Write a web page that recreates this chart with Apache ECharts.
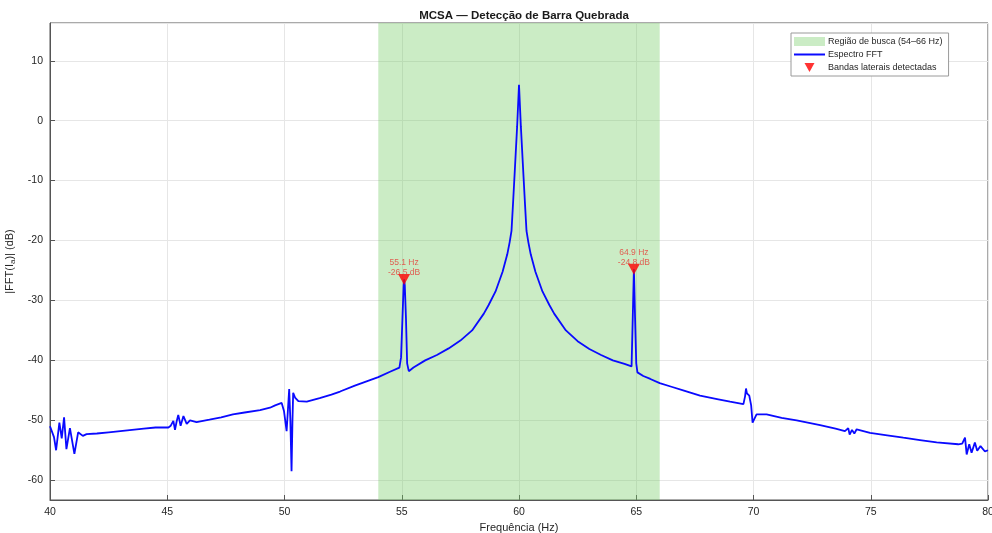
<!DOCTYPE html>
<html><head><meta charset="utf-8">
<script src="https://cdn.jsdelivr.net/npm/echarts@6/dist/echarts.min.js"></script>
<style>html,body{margin:0;padding:0;background:#fff}#c{width:992px;height:533px}</style>
</head><body><div id="c"></div>
<script>
const freqHz = [40.00,40.07,40.17,40.26,40.40,40.50,40.60,40.70,40.85,41.04,41.20,41.40,41.56,42.00,42.50,43.00,43.50,44.00,44.50,45.05,45.15,45.26,45.33,45.40,45.47,45.57,45.69,45.83,45.97,46.25,46.80,47.30,47.80,48.30,48.96,49.38,49.60,49.88,49.98,50.09,50.15,50.20,50.25,50.30,50.34,50.37,50.45,50.59,50.95,51.50,52.00,52.37,53.00,53.50,54.00,54.50,54.90,54.97,55.03,55.08,55.10,55.13,55.18,55.23,55.30,55.50,56.00,56.50,57.00,57.50,58.00,58.50,58.70,59.00,59.30,59.50,59.60,59.68,59.75,59.82,59.92,60.00,60.08,60.18,60.25,60.32,60.40,60.50,60.70,61.00,61.30,61.50,62.00,62.50,63.00,63.50,64.00,64.50,64.80,64.85,64.90,64.95,65.00,65.05,65.30,65.60,66.00,66.50,67.00,67.72,68.50,69.00,69.57,69.64,69.68,69.72,69.75,69.82,69.90,69.96,70.13,70.56,71.20,71.84,72.84,73.50,73.90,74.04,74.10,74.14,74.20,74.30,74.40,74.97,75.70,76.39,77.10,77.81,78.73,78.90,79.02,79.09,79.20,79.30,79.44,79.54,79.68,79.87,80.00];
const magDb = [-51.0,-51.0,-52.8,-55.0,-50.4,-53.0,-49.5,-54.8,-51.3,-55.6,-52.0,-52.6,-52.3,-52.2,-52.0,-51.8,-51.6,-51.4,-51.2,-51.2,-50.9,-50.1,-51.6,-50.2,-49.1,-50.9,-49.3,-50.6,-50.0,-50.3,-49.9,-49.5,-49.0,-48.7,-48.3,-47.9,-47.5,-47.1,-48.5,-51.8,-48.0,-44.8,-50.0,-58.5,-50.0,-45.4,-46.2,-46.8,-46.9,-46.3,-45.7,-45.2,-44.2,-43.5,-42.8,-41.9,-41.2,-39.5,-33.0,-27.5,-26.5,-27.5,-33.0,-40.5,-41.8,-41.2,-40.0,-39.1,-38.0,-36.7,-35.0,-32.2,-30.8,-28.5,-25.2,-22.3,-20.3,-18.4,-13.5,-8.4,-1.0,6.0,-1.0,-8.4,-13.5,-18.4,-20.3,-22.3,-25.2,-28.5,-30.8,-32.2,-35.0,-36.8,-38.1,-39.1,-40.0,-40.6,-41.0,-33.0,-24.8,-33.0,-40.5,-42.0,-42.6,-43.1,-43.8,-44.4,-45.0,-45.9,-46.5,-46.9,-47.3,-46.0,-44.7,-45.5,-45.2,-45.9,-47.5,-50.4,-49.0,-49.0,-49.6,-50.0,-50.8,-51.4,-51.8,-51.3,-52.4,-52.6,-51.6,-52.2,-51.5,-52.1,-52.5,-52.9,-53.3,-53.7,-54.0,-53.9,-52.9,-55.7,-54.0,-55.4,-53.7,-55.1,-54.3,-55.2,-55.0];
const peakFreqs = [55.1, 64.9];
const peakDb = [-26.5, -24.8];
const searchBand = [54, 66];
const xRange = [40, 80];
const yRange = [-63.3, 16.3];

const FONT = "'Liberation Sans', Arial, sans-serif";
const TXT = '#262626';
const AX = '#555';
const bandName = 'Região de busca (54–66 Hz)';
const triPath = 'path://M0,0 L10,0 L5,9 Z';
const linePath = 'path://M0,0 L31,0 L31,2 L0,2 Z';

const chart = echarts.init(document.getElementById('c'), null, {renderer: 'canvas'});
chart.setOption({
  animation: false,
  backgroundColor: '#fff',
  textStyle: {fontFamily: FONT, color: TXT},
  title: {
    text: 'MCSA — Detecção de Barra Quebrada',
    left: 519, top: 5, textAlign: 'center',
    textStyle: {fontFamily: FONT, fontSize: 11.5, fontWeight: 'bold', color: '#1a1a1a'}
  },
  grid: {left: 50, right: 4, top: 23, bottom: 33, show: true, borderColor: AX, borderWidth: 1, containLabel: false, outerBoundsMode: 'none'},
  legend: {
    orient: 'vertical', left: 791, top: 33,
    backgroundColor: '#fff', borderColor: '#9a9a9a', borderWidth: 1,
    padding: [4, 6, 4, 3], itemGap: 4, itemWidth: 31, itemHeight: 9,
    textStyle: {fontFamily: FONT, fontSize: 9, color: TXT, padding: [0, 0, 0, -2]},
    data: [
      {name: bandName, icon: 'rect', itemStyle: {color: 'rgba(119,204,102,0.38)'}},
      {name: 'Espectro FFT', icon: linePath, itemStyle: {color: '#0a0aff'}},
      {name: 'Bandas laterais detectadas', icon: triPath, itemStyle: {color: '#ff0000'}}
    ]
  },
  xAxis: {
    type: 'value', min: xRange[0], max: xRange[1], interval: 5,
    name: 'Frequência (Hz)', nameLocation: 'middle', nameGap: 19,
    nameTextStyle: {fontFamily: FONT, fontSize: 11, color: TXT},
    axisLine: {show: true, onZero: false, lineStyle: {color: AX}},
    axisTick: {show: true, inside: true, length: 5, lineStyle: {color: AX}},
    axisLabel: {fontFamily: FONT, fontSize: 10.5, color: TXT, margin: 7},
    splitLine: {show: true, lineStyle: {color: '#e6e6e6', width: 1}}
  },
  yAxis: {
    type: 'value', min: yRange[0], max: yRange[1], splitNumber: 8,
    name: '{n||FFT(I}{s|a}{n|)| (dB)}', nameLocation: 'middle', nameGap: 33,
    nameTextStyle: {fontFamily: FONT, fontSize: 11, color: TXT,
      rich: {n: {fontFamily: FONT, fontSize: 11, color: TXT}, s: {fontFamily: FONT, fontSize: 8, color: TXT, padding: [5, 0, 0, 0]}}},
    axisLine: {show: true, onZero: false, lineStyle: {color: AX}},
    axisTick: {show: true, inside: true, length: 5, lineStyle: {color: AX}},
    axisLabel: {fontFamily: FONT, fontSize: 10.5, color: TXT, margin: 7, showMinLabel: false, showMaxLabel: false},
    splitLine: {show: true, lineStyle: {color: '#e6e6e6', width: 1}}
  },
  series: [
    {
      name: bandName, type: 'line', data: [], symbol: 'none', z: 1,
      itemStyle: {color: 'rgba(119,204,102,0.38)'},
      markArea: {
        silent: true,
        itemStyle: {color: 'rgba(119,204,102,0.38)'},
        data: [[{xAxis: searchBand[0]}, {xAxis: searchBand[1]}]]
      }
    },
    {
      name: 'Espectro FFT', type: 'line', symbol: 'none', showSymbol: false, z: 3, sampling: 'none',
      lineStyle: {color: '#0a0aff', width: 1.8},
      itemStyle: {color: '#0a0aff'},
      data: freqHz.map((f, i) => [f, magDb[i]])
    },
    {
      name: 'Bandas laterais detectadas', type: 'scatter', z: 5,
      symbol: triPath, symbolSize: [12, 11],
      itemStyle: {color: '#ff0000'},
      label: {
        show: true, position: 'top', distance: -4,
        fontFamily: FONT, fontSize: 8.5, lineHeight: 10, color: '#e53935', align: 'center',
        formatter: p => p.value[0].toFixed(1) + ' Hz\n' + p.value[1].toFixed(1) + ' dB'
      },
      data: peakFreqs.map((f, i) => [f, peakDb[i]])
    }
  ]
});
</script></body></html>
